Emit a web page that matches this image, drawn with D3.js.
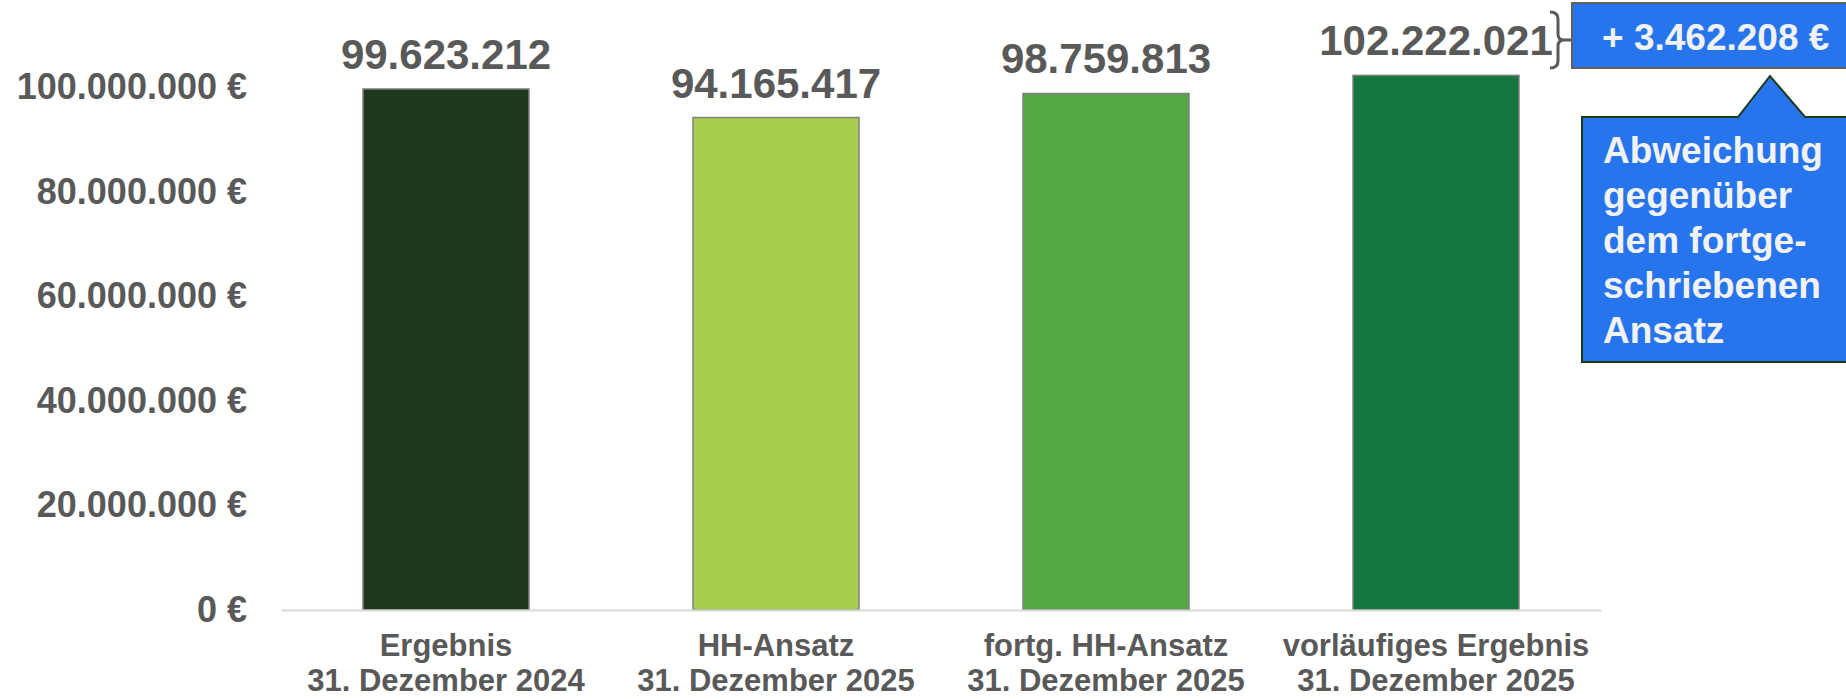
<!DOCTYPE html>
<html>
<head>
<meta charset="utf-8">
<script src="https://cdn.jsdelivr.net/npm/d3@7"></script>
<style>
  html, body { margin: 0; padding: 0; background: #ffffff; }
  svg { display: block; }
  text { font-family: "Liberation Sans", Arial, sans-serif; font-weight: bold; }
</style>
</head>
<body>
<svg id="chart" width="1846" height="699"></svg>
<script>
// ---- data ----
const categories = ["Ergebnis", "HH-Ansatz", "fortg. HH-Ansatz", "vorläufiges Ergebnis"];
const dates = ["31. Dezember 2024", "31. Dezember 2025", "31. Dezember 2025", "31. Dezember 2025"];
const values = [99623212, 94165417, 98759813, 102222021];
const barColors = ["#1f3820", "#a6cf4d", "#54a846", "#15773e"];
const tickValues = [0, 20000000, 40000000, 60000000, 80000000, 100000000];
const calloutLines = ["Abweichung", "gegenüber", "dem fortge-", "schriebenen", "Ansatz"];

// ---- setup ----
const de = d3.formatLocale({ decimal: ",", thousands: ".", grouping: [3], currency: ["", " €"] });
const fmtNum = de.format(",.0f");
const fmtEur = de.format("$,.0f");

const svg = d3.select("#chart");
const x = d3.scaleBand().domain(categories).range([281, 1601]).paddingInner(0.497).paddingOuter(0.2485);
const y = d3.scaleLinear().domain([0, 100000000]).range([610, 87]);

// y tick labels (no axis line)
const yAxis = d3.axisLeft(y).tickValues(tickValues).tickFormat(fmtEur).tickSize(0).tickPadding(0);
const gy = svg.append("g").attr("transform", "translate(247,0)").call(yAxis);
gy.select(".domain").remove();
gy.selectAll("text")
  .attr("fill", "#595959")
  .style("font-size", "36px")
  .style("font-family", "'Liberation Sans', Arial, sans-serif")
  .style("font-weight", "bold");

// bars
svg.append("g").selectAll("rect").data(categories).join("rect")
  .attr("x", d => x(d))
  .attr("y", (d, i) => y(values[i]))
  .attr("width", x.bandwidth())
  .attr("height", (d, i) => y(0) - y(values[i]))
  .attr("fill", (d, i) => barColors[i])
  .attr("stroke", "#808080")
  .attr("stroke-width", 1.5);

// baseline axis
const xAxis = d3.axisBottom(x).tickSize(0).tickFormat("");
const gx = svg.append("g").attr("transform", `translate(0,${y(0)})`).call(xAxis);
gx.select(".domain").attr("stroke", "#d9d9d9").attr("stroke-width", 2);

// value labels
svg.append("g").selectAll("text").data(categories).join("text")
  .attr("x", d => x(d) + x.bandwidth() / 2)
  .attr("y", (d, i) => y(values[i]) - 20)
  .attr("text-anchor", "middle")
  .attr("fill", "#595959")
  .style("font-size", "42px")
  .text((d, i) => fmtNum(values[i]));

// category labels
const cl = svg.append("g").selectAll("text").data(categories).join("text")
  .attr("text-anchor", "middle")
  .attr("fill", "#595959")
  .style("font-size", "31px");
cl.append("tspan").attr("x", d => x(d) + x.bandwidth() / 2).attr("y", 656).text(d => d);
cl.append("tspan").attr("x", d => x(d) + x.bandwidth() / 2).attr("y", 691).text((d, i) => dates[i]);

// ---- annotation: brace + difference box ----
const diff = values[3] - values[2];
const ann = svg.append("g");
ann.append("path")
  .attr("d", "M1550,12 Q1558,12 1558,19 L1558,34 Q1558,40 1564,40 Q1558,40 1558,46 L1558,61 Q1558,68 1550,68 M1564,40 L1578,40")
  .attr("fill", "none").attr("stroke", "#595959").attr("stroke-width", 3);
ann.append("rect")
  .attr("x", 1572).attr("y", 3).attr("width", 300).attr("height", 65)
  .attr("fill", "#2775ec").attr("stroke", "#606060").attr("stroke-width", 2);
ann.append("text")
  .attr("x", 1602).attr("y", 50)
  .attr("fill", "#f2f2f2")
  .style("font-size", "37px")
  .text("+ " + fmtEur(diff));

// callout
ann.append("path")
  .attr("d", "M1582,117 L1738,117 L1770,76 L1805,117 L1860,117 L1860,362 L1582,362 Z")
  .attr("fill", "#2775ec").attr("stroke", "#1e3a1e").attr("stroke-width", 2);
ann.append("text")
  .attr("fill", "#f2f2f2")
  .style("font-size", "37px")
  .selectAll("tspan").data(calloutLines).join("tspan")
  .attr("x", 1603)
  .attr("y", (d, i) => 163 + i * 45)
  .text(d => d);
</script>
</body>
</html>
